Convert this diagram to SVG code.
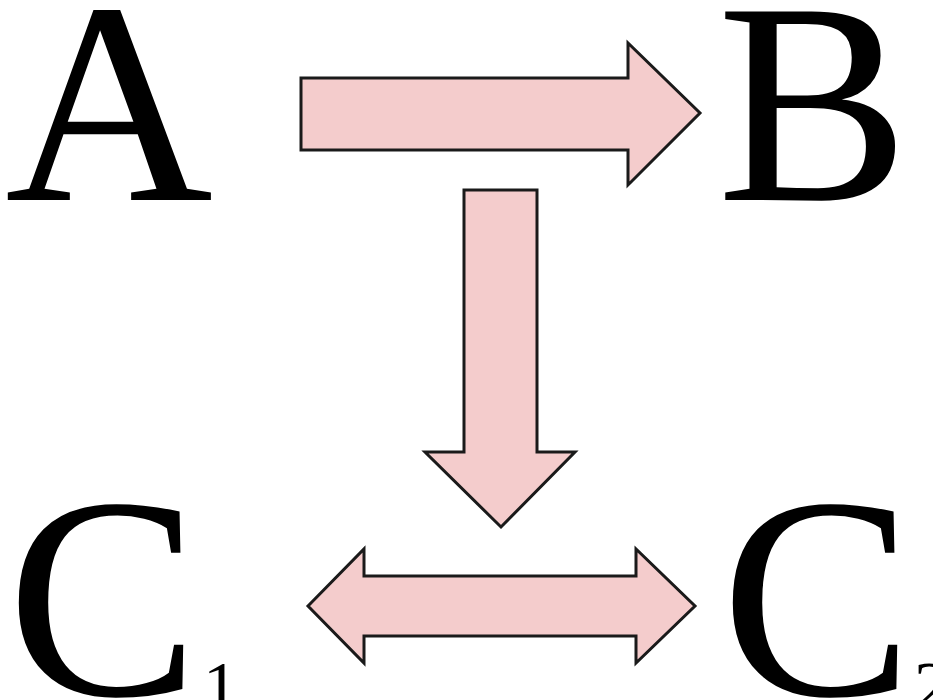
<svg xmlns="http://www.w3.org/2000/svg" width="933" height="700" viewBox="0 0 933 700">
<style>
.lbl{font-family:"Liberation Serif","Times New Roman",serif;fill:#000}
.big{font-size:288px}
.sub{font-size:70px}
.arr{fill:#f4cccc;stroke:#1a1a1a;stroke-width:3;stroke-linejoin:miter}
</style>
<rect width="933" height="700" fill="#fff"/>
<g id="A"><text class="lbl big" x="5" y="200">A</text></g>
<g id="B"><text class="lbl big" x="717" y="200">B</text></g>
<g id="C1"><text class="lbl big" x="7" y="695">C<tspan class="sub" dx="4" dy="15">1</tspan></text></g>
<g id="C2"><text class="lbl big" x="721" y="695">C<tspan class="sub" dx="1" dy="15">2</tspan></text></g>
<g id="connectors">
<path class="arr" d="M301,78 H628 V43 L700,113 L628,185 V150 H301 Z"/>
<path class="arr" d="M464,190 H537 V452 H575 L501,527 L425,452 H464 Z"/>
<path class="arr" d="M308,606 L364,549 V576 H636 V549 L695,606 L636,663 V636 H364 V663 Z"/>
</g>
</svg>
